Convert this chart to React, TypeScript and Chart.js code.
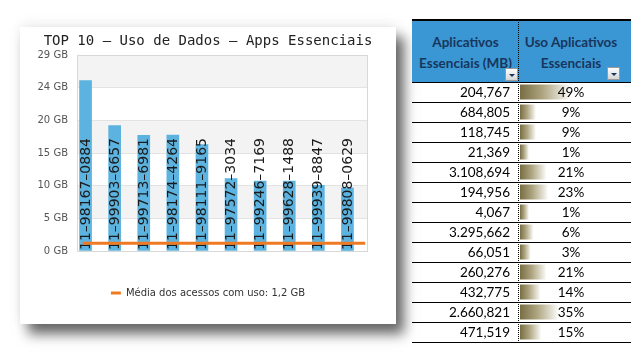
import React, { useEffect, useRef } from "react";
import { Chart, registerables } from "chart.js";

Chart.register(...registerables);

// ---------- Chart data ----------
const chartTitle = "TOP 10 – Uso de Dados – Apps Essenciais";
const phoneLabels = [
  "11–98167–0884",
  "11–99903–6657",
  "11–99713–6981",
  "11–98174–4264",
  "11–98111–9165",
  "11–97572–3034",
  "11–99246–7169",
  "11–99628–1488",
  "11–99939–8847",
  "11–99808–0629",
];
// usage in MB
const usageMB = [26100, 19200, 17700, 17750, 16300, 11100, 10700, 10700, 10050, 9650];
const averageMB = 1180;
const averageLabel = "Média dos acessos com uso: 1,2 GB";
const yMaxMB = 30000;
const yStepMB = 5000;

// ---------- Table data ----------
const header1 = ["Aplicativos", "Essenciais (MB)"];
const header2 = ["Uso Aplicativos", "Essenciais"];
const appMB = [
  "204,767",
  "684,805",
  "118,745",
  "21,369",
  "3.108,694",
  "194,956",
  "4,067",
  "3.295,662",
  "66,051",
  "260,276",
  "432,775",
  "2.660,821",
  "471,519",
];
const appPct = [49, 9, 9, 1, 21, 23, 1, 6, 3, 21, 14, 35, 15];
const pctBarMin = -9.3;
const pctBarMax = 108.1;

const BAR_BLUE = "#5cb3df";
const AVG_ORANGE = "#f07a22";
const HEADER_BLUE = "#3b97d3";
const HEADER_TEXT = "#17365d";

const bandsPlugin = {
  id: "bands",
  beforeDraw(chart: any) {
    const { ctx, chartArea } = chart;
    const ys = chart.scales.y;
    const ticks = ys.ticks;
    ctx.save();
    ctx.fillStyle = "#f3f3f3";
    for (let k = 0; k < ticks.length - 1; k++) {
      if (k % 2 === 1) {
        const y1 = ys.getPixelForValue(ticks[k].value);
        const y2 = ys.getPixelForValue(ticks[k + 1].value);
        ctx.fillRect(chartArea.left, y2, chartArea.right - chartArea.left, y1 - y2);
      }
    }
    ctx.restore();
  },
  beforeDatasetsDraw(chart: any) {
    const { ctx, chartArea } = chart;
    ctx.save();
    ctx.strokeStyle = "#d8d8d8";
    ctx.lineWidth = 1;
    ctx.strokeRect(
      Math.round(chartArea.left) + 0.5,
      Math.round(chartArea.top) + 0.5,
      Math.round(chartArea.right - chartArea.left) - 1,
      Math.round(chartArea.bottom - chartArea.top)
    );
    ctx.restore();
  },
  afterDatasetDraw(chart: any, args: any) {
    if (args.index !== 0) return;
    const { ctx } = chart;
    const yBase = chart.scales.y.getPixelForValue(0);
    ctx.save();
    ctx.font = '14px "DejaVu Sans"';
    ctx.fillStyle = "#1a1a1a";
    ctx.textAlign = "left";
    ctx.textBaseline = "middle";
    args.meta.data.forEach((bar: any, i: number) => {
      ctx.save();
      ctx.translate(bar.x + 0.5, yBase - 1);
      ctx.rotate(-Math.PI / 2);
      ctx.fillText(chart.data.labels[i], 0, 0);
      ctx.restore();
    });
    ctx.restore();
  },
};

const tablePlugin = {
  id: "tableCells",
  afterDatasetsDraw(chart: any) {
    const { ctx, chartArea } = chart;
    const ys = chart.scales.y;
    const n = chart.data.labels.length;
    const rowH = (chartArea.bottom - chartArea.top) / n;
    ctx.save();
    ctx.strokeStyle = "#000";
    ctx.lineWidth = 1;
    for (let k = 0; k <= n; k++) {
      const y = Math.round(chartArea.top + k * rowH) + 0.5;
      ctx.beginPath();
      ctx.moveTo(0, y);
      ctx.lineTo(chart.width, y);
      ctx.stroke();
    }
    ctx.fillStyle = "#000";
    ctx.textBaseline = "middle";
    ctx.font = "13.5px Lato";
    chart.data.labels.forEach((t: string, i: number) => {
      const y = ys.getPixelForValue(i) + 1;
      ctx.textAlign = "right";
      ctx.fillText(t, 98, y);
      ctx.textAlign = "center";
      ctx.fillText(appPct[i] + "%", 159, y);
    });
    ctx.restore();
  },
};

function pctGradient(c: any) {
  const chart = c.chart;
  const xs = chart.scales && chart.scales.x;
  const v = typeof c.raw === "number" ? c.raw : NaN;
  if (!xs || !Number.isFinite(v)) return "#857a50";
  const x0 = xs.getPixelForValue(pctBarMin);
  const x1 = xs.getPixelForValue(v);
  if (!Number.isFinite(x0) || !Number.isFinite(x1) || x1 <= x0) return "#857a50";
  const g = chart.ctx.createLinearGradient(x0, 0, x1, 0);
  g.addColorStop(0, "#786d43");
  g.addColorStop(0.45, "#aea581");
  g.addColorStop(1, "#fbfbf8");
  return g;
}

function FilterButton({ left, top }: { left: number; top: number }) {
  return (
    <div
      style={{
        position: "absolute",
        left,
        top,
        width: 11,
        height: 11,
        border: "1px solid #9a9a9a",
        background: "linear-gradient(#fdfdfd, #d6d6d6)",
        display: "flex",
        alignItems: "center",
        justifyContent: "center",
      }}
    >
      <div
        style={{
          width: 0,
          height: 0,
          borderLeft: "3px solid transparent",
          borderRight: "3px solid transparent",
          borderTop: "3px solid " + HEADER_TEXT,
          marginTop: 1,
        }}
      />
    </div>
  );
}

export default function App() {
  const chartRef = useRef<HTMLCanvasElement>(null);
  const tableRef = useRef<HTMLCanvasElement>(null);

  useEffect(() => {
    const main = new Chart(chartRef.current as HTMLCanvasElement, {
      type: "bar",
      data: {
        labels: phoneLabels,
        datasets: [
          {
            type: "bar",
            label: "Uso",
            data: usageMB,
            backgroundColor: BAR_BLUE,
            barThickness: 12,
            order: 2,
            xAxisID: "x",
            yAxisID: "y",
          } as any,
          {
            type: "line",
            label: averageLabel,
            data: [
              { x: 0, y: averageMB },
              { x: phoneLabels.length, y: averageMB },
            ],
            xAxisID: "xLine",
            yAxisID: "y",
            borderColor: AVG_ORANGE,
            backgroundColor: AVG_ORANGE,
            borderWidth: 3,
            pointRadius: 0,
            order: 1,
          } as any,
        ],
      },
      options: {
        animation: false,
        responsive: false,
        maintainAspectRatio: false,
        layout: { padding: { left: 0, right: 0, top: 6, bottom: 16 } },
        plugins: {
          title: {
            display: true,
            text: chartTitle,
            color: "#222",
            font: { family: "DejaVu Sans Mono", size: 14, weight: "normal" as any },
            padding: { top: 0, bottom: 5.2 },
          },
          legend: {
            position: "bottom",
            labels: {
              filter: (item: any) => item.datasetIndex === 1,
              usePointStyle: true,
              pointStyle: "line",
              pointStyleWidth: 10,
              color: "#333",
              font: { family: "DejaVu Sans", size: 10 },
              padding: 10,
            },
          },
          tooltip: { enabled: false },
        },
        scales: {
          x: {
            type: "category",
            display: true,
            ticks: { display: false },
            grid: { display: false },
            border: { display: false },
            afterFit: (s: any) => {
              s.height = 27;
            },
          },
          xLine: {
            type: "linear",
            display: false,
            offset: false,
            min: -0.2,
            max: 10.1,
          },
          y: {
            type: "linear",
            min: 0,
            max: yMaxMB,
            ticks: {
              stepSize: yStepMB,
              callback: (v: any) => Math.round(Number(v) / 1024) + " GB",
              color: "#555",
              font: { family: "DejaVu Sans", size: 10 },
              padding: 9,
            },
            grid: { color: "#e3e3e3", drawTicks: false },
            border: { display: false },
            afterFit: (s: any) => {
              s.width = 57;
            },
          },
          yPad: {
            type: "linear",
            position: "right",
            ticks: { display: false },
            grid: { display: false },
            border: { display: false },
            afterFit: (s: any) => {
              s.width = 28;
            },
          },
        } as any,
      },
      plugins: [bandsPlugin],
    });

    const table = new Chart(tableRef.current as HTMLCanvasElement, {
      type: "bar",
      data: {
        labels: appMB,
        datasets: [
          {
            data: appPct,
            base: pctBarMin,
            barPercentage: 0.75,
            categoryPercentage: 1,
            backgroundColor: pctGradient,
          } as any,
        ],
      },
      options: {
        animation: false,
        responsive: false,
        maintainAspectRatio: false,
        indexAxis: "y",
        layout: { padding: { left: 108, right: 10, top: 0, bottom: 1 } },
        plugins: { legend: { display: false }, title: { display: false }, tooltip: { enabled: false } },
        scales: {
          x: { type: "linear", display: false, offset: false, min: pctBarMin, max: pctBarMax },
          y: { type: "category", display: false },
        } as any,
      },
      plugins: [tablePlugin],
    });

    return () => {
      main.destroy();
      table.destroy();
    };
  }, []);

  const headerTextStyle: React.CSSProperties = {
    position: "absolute",
    top: 13,
    textAlign: "center",
    font: "bold 13.5px Lato",
    lineHeight: "21px",
    color: HEADER_TEXT,
    whiteSpace: "nowrap",
  };

  return (
    <div
      style={{
        position: "absolute",
        left: 0,
        top: 0,
        width: 631,
        height: 362,
        background: "#fff",
        overflow: "hidden",
      }}
    >
      <div
        style={{
          position: "absolute",
          left: 20,
          top: 27,
          width: 376,
          height: 297,
          background: "#fff",
          boxShadow: "8px 10px 12px rgba(0,0,0,0.6), 0 -3px 12px rgba(0,0,0,0.07)",
        }}
      >
        <canvas
          ref={chartRef}
          width={376}
          height={297}
          style={{ display: "block", width: 376, height: 297 }}
        />
      </div>

      <div style={{ position: "absolute", left: 412, top: 19, width: 219, height: 324 }}>
        <div style={{ position: "absolute", left: 0, top: 0, width: 219, height: 2, background: "#000" }} />
        <div style={{ position: "absolute", left: 0, top: 2, width: 219, height: 61, background: HEADER_BLUE }} />
        <div style={{ ...headerTextStyle, left: 0, width: 107 }}>
          {header1[0]}
          <br />
          {header1[1]}
        </div>
        <div style={{ ...headerTextStyle, left: 108, width: 102 }}>
          {header2[0]}
          <br />
          {header2[1]}
        </div>
        <FilterButton left={93} top={49} />
        <FilterButton left={195} top={48} />
        <canvas
          ref={tableRef}
          width={219}
          height={261}
          style={{ position: "absolute", left: 0, top: 63, display: "block", width: 219, height: 261 }}
        />
        <div
          style={{
            position: "absolute",
            left: 106,
            top: 0,
            width: 0,
            height: 324,
            borderLeft: "1px dotted #000",
          }}
        />
      </div>
    </div>
  );
}
